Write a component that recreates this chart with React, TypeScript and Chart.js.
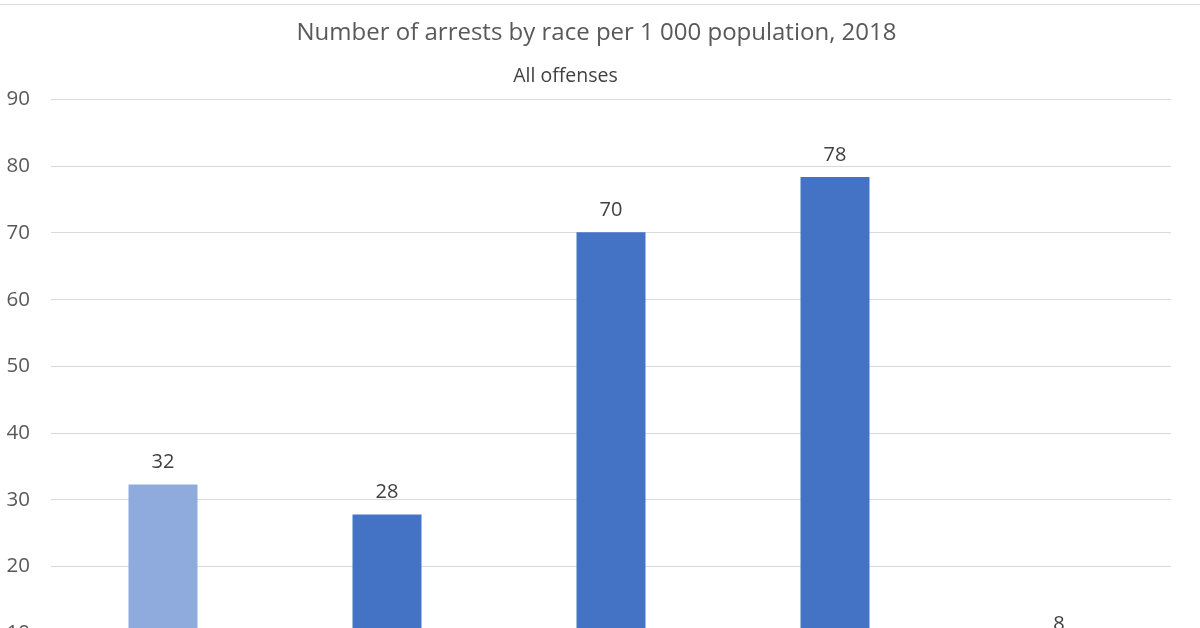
import React, { useEffect, useRef } from "react";
import { Chart, registerables } from "chart.js";

Chart.register(...registerables);

const categories = [
  "Total",
  "White",
  "Black or African American",
  "American Indian or Alaska Native",
  "Asian",
];
const arrestRates = [32.3, 27.8, 70.1, 78.4, 8.1];
const rateLabels = ["32", "28", "70", "78", "8"];
const barColors = ["#8FAADC", "#4472C4", "#4472C4", "#4472C4", "#4472C4"];
const yTicks = [0, 10, 20, 30, 40, 50, 60, 70, 80, 90];
const chartTitle = "Number of arrests by race per 1 000 population, 2018";
const chartSubtitle = "All offenses";

const FONT = "'Open Sans', 'Noto Sans', sans-serif";

const dataLabelPlugin = {
  id: "dataLabels",
  afterDatasetsDraw(chart: any) {
    const ctx = chart.ctx;
    const meta = chart.getDatasetMeta(0);
    ctx.save();
    ctx.font = `20px ${FONT}`;
    ctx.fillStyle = "#404040";
    ctx.textAlign = "center";
    ctx.textBaseline = "middle";
    meta.data.forEach((bar: any, i: number) => {
      ctx.fillText(rateLabels[i], bar.x, bar.y - 22);
    });
    ctx.restore();
  },
};

const titlePlugin = {
  id: "headerText",
  afterDraw(chart: any) {
    const ctx = chart.ctx;
    ctx.save();
    ctx.textAlign = "center";
    ctx.textBaseline = "middle";
    ctx.fillStyle = "#595959";
    ctx.font = `24px ${FONT}`;
    ctx.fillText(chartTitle, 596.5, 33);
    ctx.fillStyle = "#404040";
    ctx.font = `19.5px ${FONT}`;
    ctx.fillText(chartSubtitle, 565.5, 76);
    ctx.restore();
  },
};

export default function App() {
  const ref = useRef<HTMLCanvasElement | null>(null);

  useEffect(() => {
    if (!ref.current) return;
    const chart = new Chart(ref.current, {
      type: "bar",
      data: {
        labels: categories,
        datasets: [
          {
            data: arrestRates,
            backgroundColor: barColors,
            barPercentage: 0.308,
            categoryPercentage: 1,
          },
        ],
      },
      options: {
        animation: false,
        responsive: false,
        maintainAspectRatio: false,
        layout: { padding: { left: 0, right: 29, top: 99.5, bottom: 20 } },
        plugins: {
          legend: { display: false },
          tooltip: { enabled: false },
          title: { display: false },
          subtitle: { display: false },
        },
        scales: {
          x: {
            grid: { display: false },
            border: { display: true, color: "#d9d9d9" },
            ticks: { color: "#595959", font: { family: FONT, size: 18 } },
            afterFit(scale: any) {
              scale.height = 60;
            },
          },
          y: {
            min: 0,
            max: 90,
            afterBuildTicks(scale: any) {
              scale.ticks = yTicks.map((v) => ({ value: v }));
            },
            grid: { color: "#d9d9d9", lineWidth: 1, drawTicks: false },
            border: { display: false },
            ticks: {
              color: "#595959",
              padding: 21,
              font: { family: FONT, size: 20.5 },
            },
            afterFit(scale: any) {
              scale.width = 51;
            },
          },
        },
      },
      plugins: [dataLabelPlugin, titlePlugin],
    });
    return () => chart.destroy();
  }, []);

  return (
    <div style={{ position: "fixed", left: 0, top: 0, width: 1200, height: 780, background: "#fff" }}>
      <div style={{ position: "absolute", left: 0, top: 4, width: 1200, height: 0, borderTop: "1px solid #d9d9d9" }} />
      <canvas ref={ref} width={1200} height={780} style={{ display: "block" }} />
    </div>
  );
}
